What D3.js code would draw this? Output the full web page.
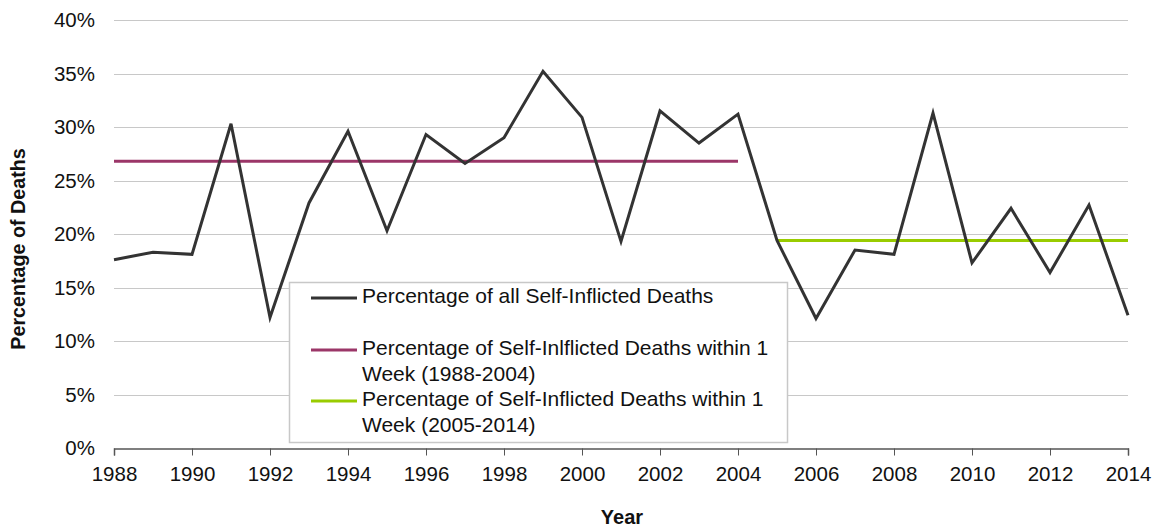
<!DOCTYPE html>
<html>
<head>
<meta charset="utf-8">
<script src="https://cdn.jsdelivr.net/npm/d3@7"></script>
<style>
  body { margin: 0; background: #fff; }
  svg { display: block; font-family: "Liberation Sans", Arial, sans-serif; }
</style>
</head>
<body>
<div id="chart"></div>
<script>
// ── Data ─────────────────────────────────────────────
const years = d3.range(1988, 2015);
const allDeaths = [
  17.6, 18.3, 18.1, 30.3, 12.2, 22.9, 29.6, 20.3, 29.3, 26.6,
  29.0, 35.2, 30.9, 19.3, 31.5, 28.5, 31.2, 19.4, 12.1, 18.5,
  18.1, 31.3, 17.3, 22.4, 16.4, 22.7, 12.4
];
const avgEarly = { from: 1988, to: 2004, value: 26.8 };
const avgLate  = { from: 2005, to: 2014, value: 19.4 };
const yTicks = [0, 5, 10, 15, 20, 25, 30, 35, 40];
const xTicks = d3.range(1988, 2015, 2);
const legendLabels = [
  ['Percentage of all Self-Inflicted Deaths'],
  ['Percentage of Self-Inlflicted Deaths within 1', 'Week (1988-2004)'],
  ['Percentage of Self-Inflicted Deaths within 1', 'Week (2005-2014)']
];
const colors = ['#333333', '#9b3668', '#99cc00'];

const W = 1161, H = 528;
const M = { left: 114, right: 33, top: 20, bottom: 80 };
const FS = 20.5;

const svg = d3.select('#chart').append('svg')
  .attr('width', W).attr('height', H);

const x = d3.scaleLinear().domain([1988, 2014]).range([M.left, W - M.right]);
const y = d3.scaleLinear().domain([0, 40]).range([H - M.bottom, M.top]);

// gridlines
svg.append('g')
  .selectAll('line')
  .data(yTicks.filter(t => t > 0))
  .enter().append('line')
  .attr('x1', x(1988)).attr('x2', x(2014))
  .attr('y1', d => Math.round(y(d)) + 0.5).attr('y2', d => Math.round(y(d)) + 0.5)
  .attr('stroke', '#c8c8c8').attr('stroke-width', 1);

// y labels
svg.append('g')
  .selectAll('text')
  .data(yTicks)
  .enter().append('text')
  .attr('x', 95).attr('y', d => y(d))
  .attr('dy', '0.35em')
  .attr('text-anchor', 'end')
  .attr('font-size', FS).attr('fill', '#111')
  .text(d => d + '%');

// x axis
const xAxis = svg.append('g')
  .attr('transform', `translate(0,${Math.round(y(0)) + 0.5})`)
  .call(d3.axisBottom(x).tickValues(xTicks).tickFormat(d3.format('d')).tickSize(7).tickPadding(6));
xAxis.select('.domain').attr('stroke', '#555').attr('stroke-width', 1.5);
xAxis.selectAll('.tick line').attr('stroke', '#555').attr('stroke-width', 1);
xAxis.selectAll('.tick text')
  .attr('font-size', FS).attr('fill', '#111')
  .attr('font-family', '"Liberation Sans", Arial, sans-serif')
  .attr('y', 18);

// average lines
[avgEarly, avgLate].forEach((a, i) => {
  svg.append('line')
    .attr('x1', x(a.from)).attr('x2', x(a.to))
    .attr('y1', y(a.value)).attr('y2', y(a.value))
    .attr('stroke', colors[i + 1]).attr('stroke-width', 3);
});

// main line
const line = d3.line().x((d, i) => x(years[i])).y(d => y(d));
svg.append('path')
  .datum(allDeaths)
  .attr('d', line)
  .attr('fill', 'none')
  .attr('stroke', colors[0])
  .attr('stroke-width', 3)
  .attr('stroke-linejoin', 'miter');

// legend
const lg = svg.append('g').attr('transform', 'translate(290,283)');
lg.append('rect')
  .attr('x', -0.5).attr('y', -0.5)
  .attr('width', 498).attr('height', 160)
  .attr('fill', '#fff').attr('stroke', '#c8c8c8').attr('stroke-width', 1.5);
const legendY = [15, 67, 118];
legendLabels.forEach((lines, i) => {
  lg.append('line')
    .attr('x1', 21).attr('x2', 67)
    .attr('y1', legendY[i]).attr('y2', legendY[i])
    .attr('stroke', colors[i]).attr('stroke-width', 3);
  lines.forEach((t, j) => {
    lg.append('text')
      .attr('x', 72).attr('y', legendY[i] - 2 + j * 25.5)
      .attr('dy', '0.35em')
      .attr('font-size', 21).attr('fill', '#111')
      .text(t);
  });
});

// axis titles
svg.append('text')
  .attr('transform', 'translate(25,249) rotate(-90)')
  .attr('text-anchor', 'middle')
  .attr('font-size', 19.7).attr('font-weight', 'bold').attr('fill', '#111')
  .text('Percentage of Deaths');

svg.append('text')
  .attr('x', 622).attr('y', 524)
  .attr('text-anchor', 'middle')
  .attr('font-size', 20).attr('font-weight', 'bold').attr('fill', '#111')
  .text('Year');
</script>
</body>
</html>
